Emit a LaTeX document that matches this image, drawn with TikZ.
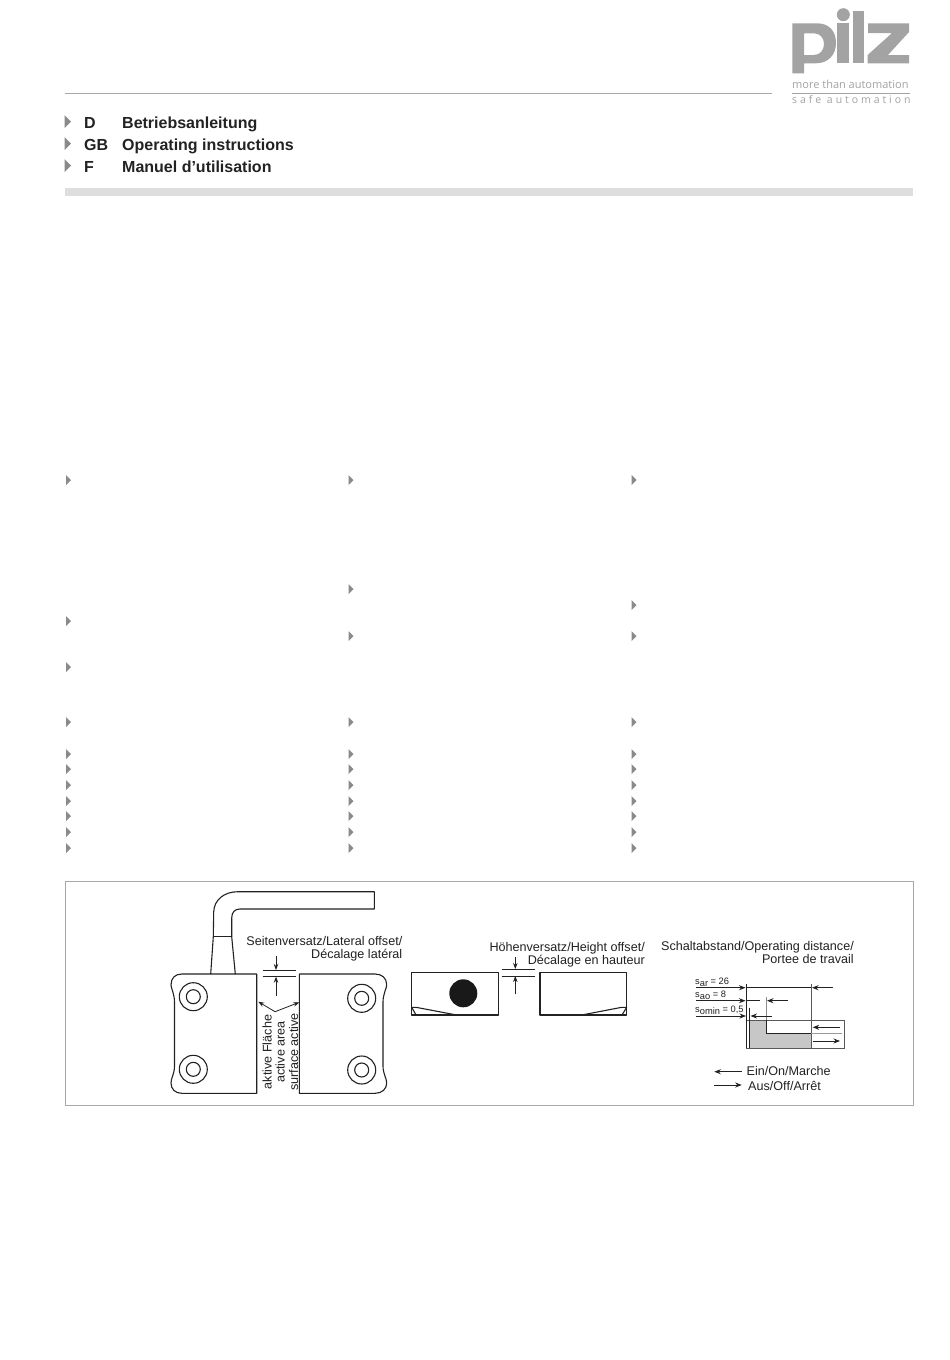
\documentclass[tikz,border=0pt]{standalone}
\usepackage{fontspec}
\setmainfont{Liberation Sans}
\newfontfamily\logofont[LetterSpace=0]{Open Sans}
\newfontfamily\logowide[LetterSpace=28]{Open Sans}
\usetikzlibrary{arrows.meta}
\definecolor{logogray}{HTML}{A3A3A3}
\definecolor{inkdark}{HTML}{222222}
\definecolor{bandgray}{HTML}{DEDEDE}
\definecolor{rulegray}{HTML}{A8A8A8}
\definecolor{tridark}{HTML}{8A8A8A}
\tikzset{
  x=1pt,y=-1pt,
  ink/.style={draw=inkdark,line width=1.1pt,line join=round},
  thin ink/.style={draw=inkdark,line width=0.8pt},
  arr/.style={draw=inkdark,line width=0.8pt,-{Stealth[length=6pt,width=4.5pt]}},
  sarr/.style={draw=inkdark,line width=0.8pt,-{Stealth[length=6.5pt,width=5pt]}},
  lab/.style={inner sep=0pt,text=inkdark,font=\fontsize{12.6}{15}\selectfont},
  sublab/.style={inner sep=0pt,anchor=base west,text=inkdark,font=\fontsize{9.3}{11}\selectfont},
  head/.style={inner sep=0pt,anchor=base west,text=inkdark,font=\fontsize{16}{19}\selectfont\bfseries},
  bigtri/.style={fill=tridark,draw=none},
  smalltri/.style={fill=tridark,draw=none},
}
\newcommand{\Sub}[1]{\raisebox{-2.4pt}{#1}}
\begin{document}
\begin{tikzpicture}
\useasboundingbox (0,0) rectangle (950,1360);
\fill[white] (0,0) rectangle (950,1360);
% logo
\fill[logogray,even odd rule] (792.3,23.3) -- (817,23.3) .. controls (829,23.3) and (836,31) .. (836,43) .. controls (836,55) and (828,63.3) .. (816,63.3) -- (804,63.3) -- (804,73.3) -- (792.3,73.3) -- cycle
 (804,33.3) -- (804,55) -- (814,55) .. controls (820,55) and (824,50) .. (824,44) .. controls (824,38) and (820,33.3) .. (814,33.3) -- cycle;
\fill[logogray] (837.3,23.3) rectangle (849.3,63.3);
\fill[logogray] (843.3,14.7) circle (6.5);
\fill[logogray] (852.7,10.7) rectangle (864.3,63.3);
\fill[logogray] (868,23.3) -- (909,23.3) -- (909,32) -- (888,55) -- (909,55) -- (909,63.3) -- (867.7,63.3) -- (867.7,55) -- (892,33) -- (868,33) -- cycle;
\node[inner sep=0pt,anchor=base west,text=logogray] (tagone) at (792,88) {\logofont\fontsize{11}{13}\selectfont more than automation};
\draw[logogray,line width=0.7pt] (792,93.3) -- (910,93.3);
\node[inner sep=0pt,anchor=base west,text=logogray] (tagtwo) at (792,103.5) {\logowide\fontsize{10.5}{13}\selectfont safe automation};
% header
\draw[rulegray,line width=1pt] (65,93.5) -- (772,93.5);
\foreach \y in {121.7,143.7,165.7} \fill[bigtri] (64.5,\y-6.5) -- (71,\y) -- (64.5,\y+6.5) -- cycle;
\node[head] (hd) at (84,128) {D};
\node[head] (hdt) at (122,128) {Betriebsanleitung};
\node[head] (hgb) at (84,150) {GB};
\node[head] (hgbt) at (122,150) {Operating instructions};
\node[head] (hf) at (84,172) {F};
\node[head] (hft) at (122,172) {Manuel d'utilisation};
\fill[bandgray] (65,188) rectangle (913,196);
% small bullets
\foreach \x/\ys in {66/{480,621,667,722,754,769,785,801,816,832,848},348.5/{480,589,636,722,754,769,785,801,816,832,848},631.5/{480,605,636,722,754,769,785,801,816,832,848}}
  \foreach \y in \ys \fill[smalltri] (\x,\y-5) -- (\x+5,\y) -- (\x,\y+5) -- cycle;
% frame
\draw[rulegray,line width=0.7pt] (65,881) rectangle (913,1105);
% cable
\draw[ink] (210.7,974) -- (213.3,936.7) -- (213.7,912) .. controls (214,900) and (224,891.7) .. (238,891.7) -- (374.3,891.7) -- (374.3,909) -- (240,909) .. controls (235,909) and (231.7,912) .. (231.7,918) -- (231.7,936.7) -- (235.3,974);
\draw[ink] (213.3,936.7) -- (231.7,936.7);
% left body
\draw[ink] (256.7,974) -- (182,974) .. controls (175,974) and (171,978) .. (171,985) .. controls (171,988) and (174.5,994) .. (174.5,1002) -- (174.5,1066) .. controls (174.5,1074) and (171,1078) .. (171,1083) .. controls (171,1089) and (175,1093.3) .. (182,1093.3) -- (256.7,1093.3) -- cycle;
% right body
\draw[ink] (299.3,974) -- (375,974) .. controls (382,974) and (386.7,978) .. (386.7,985) .. controls (386.7,988) and (383,994) .. (383,1002) -- (383,1066) .. controls (383,1074) and (386.7,1078) .. (386.7,1083) .. controls (386.7,1089) and (382,1093.3) .. (375,1093.3) -- (299.3,1093.3) -- cycle;
\foreach \x/\y in {193.3/996.7,193.3/1069.3,361.7/998.3,361.7/1070}{
  \draw[ink] (\x,\y) circle (14);
  \draw[ink] (\x,\y) circle (7);
}
% lateral offset marks
\draw[thin ink] (262.7,970) -- (296,970);
\draw[thin ink] (262.7,976.7) -- (296,976.7);
\draw[arr] (276,955.7) -- (276,970);
\draw[arr] (276,995.7) -- (276,976.7);
\coordinate (act) at (275,1011.7);
\coordinate (actl) at (258.3,1001.7);
\coordinate (actr) at (299.3,1002.3);
\draw[arr] (act) -- (actl);
\draw[arr] (act) -- (actr);
\node[lab,anchor=base east] (latone) at (402.5,945) {Seitenversatz/Lateral offset/};
\node[lab,anchor=base east] (lattwo) at (402.5,958) {Décalage latéral};
\node[lab,rotate=90] (acta) at (267,1052) {aktive Fläche};
\node[lab,rotate=90] (actb) at (280,1052) {active area};
\node[lab,rotate=90] (actc) at (293.5,1052) {surface active};
% middle part
\draw[ink] (411.7,972.7) rectangle (498.3,1015);
\draw[ink] (411.7,1007.3) -- (416,1007.3) -- (456.7,1015);
\draw[ink] (411.7,1007.3) -- (416,1015);
\fill[black!90] (463.3,993.3) circle (14);
\draw[ink] (540,972.7) rectangle (626.7,1015);
\draw[ink] (581.7,1015) -- (621.7,1007.3) -- (626.7,1007.3);
\draw[ink] (626.7,1007.3) -- (622,1015);
\draw[thin ink] (501.7,969) -- (535,969);
\draw[thin ink] (501.7,976) -- (535,976);
\draw[arr] (515.3,957) -- (515.3,969);
\draw[arr] (515.3,994.3) -- (515.3,976);
\node[lab,anchor=base east] (hone) at (645,951.5) {Höhenversatz/Height offset/};
\node[lab,anchor=base east] (htwo) at (645,964.5) {Décalage en hauteur};
% operating distance
\node[lab,anchor=base east] (sone) at (854,950.5) {Schaltabstand/Operating distance/};
\node[lab,anchor=base east] (stwo) at (854,963.5) {Portee de travail};
\fill[black!22] (749.3,1020) rectangle (811,1048.3);
\fill[white] (767,1020) rectangle (811,1033.3);
\draw[draw=black!65,line width=0.7pt] (746.7,1020) rectangle (844.3,1048.3);
\draw[thin ink] (746.7,984) -- (746.7,1048.3);
\draw[draw=black!65,line width=1pt] (811,984) -- (811,1048.3);
\draw[draw=black!45,line width=1pt] (766.7,996.7) -- (766.7,1020);
\draw[thin ink] (766.7,1020) -- (766.7,1033.3) -- (811,1033.3);
\draw[thin ink] (749.3,1007.7) -- (749.3,1048.3);
\draw[draw=black!40,line width=1pt] (811,1033.3) -- (841.7,1033.3);
\draw[sarr] (696,987.7) -- (745.5,987.7);
\draw[thin ink] (746.7,987.7) -- (811,987.7);
\draw[sarr] (833.3,987.7) -- (812,987.7);
\draw[sarr] (696,1000.7) -- (745.5,1000.7);
\draw[thin ink] (745.5,1000.7) -- (760,1000.7);
\draw[sarr] (788,1000.7) -- (767,1000.7);
\draw[sarr] (696,1016) -- (746,1016);
\draw[sarr] (771.7,1016) -- (750.5,1016);
\draw[sarr] (840,1027.3) -- (812.7,1027.3);
\draw[sarr] (813.3,1041) -- (840,1041);
\node[sublab] (sar) at (695,984) {s\Sub{ar} = 26};
\node[sublab] (sao) at (695,997) {s\Sub{ao} = 8};
\node[sublab] (som) at (695,1012) {s\Sub{omin} = 0,5};
\draw[sarr] (741.7,1071.7) -- (714.3,1071.7);
\draw[sarr] (714.3,1085) -- (741.7,1085);
\node[lab,anchor=base west] (ein) at (746.5,1075) {Ein/On/Marche};
\node[lab,anchor=base west] (aus) at (748,1090) {Aus/Off/Arrêt};
\end{tikzpicture}
\end{document}
